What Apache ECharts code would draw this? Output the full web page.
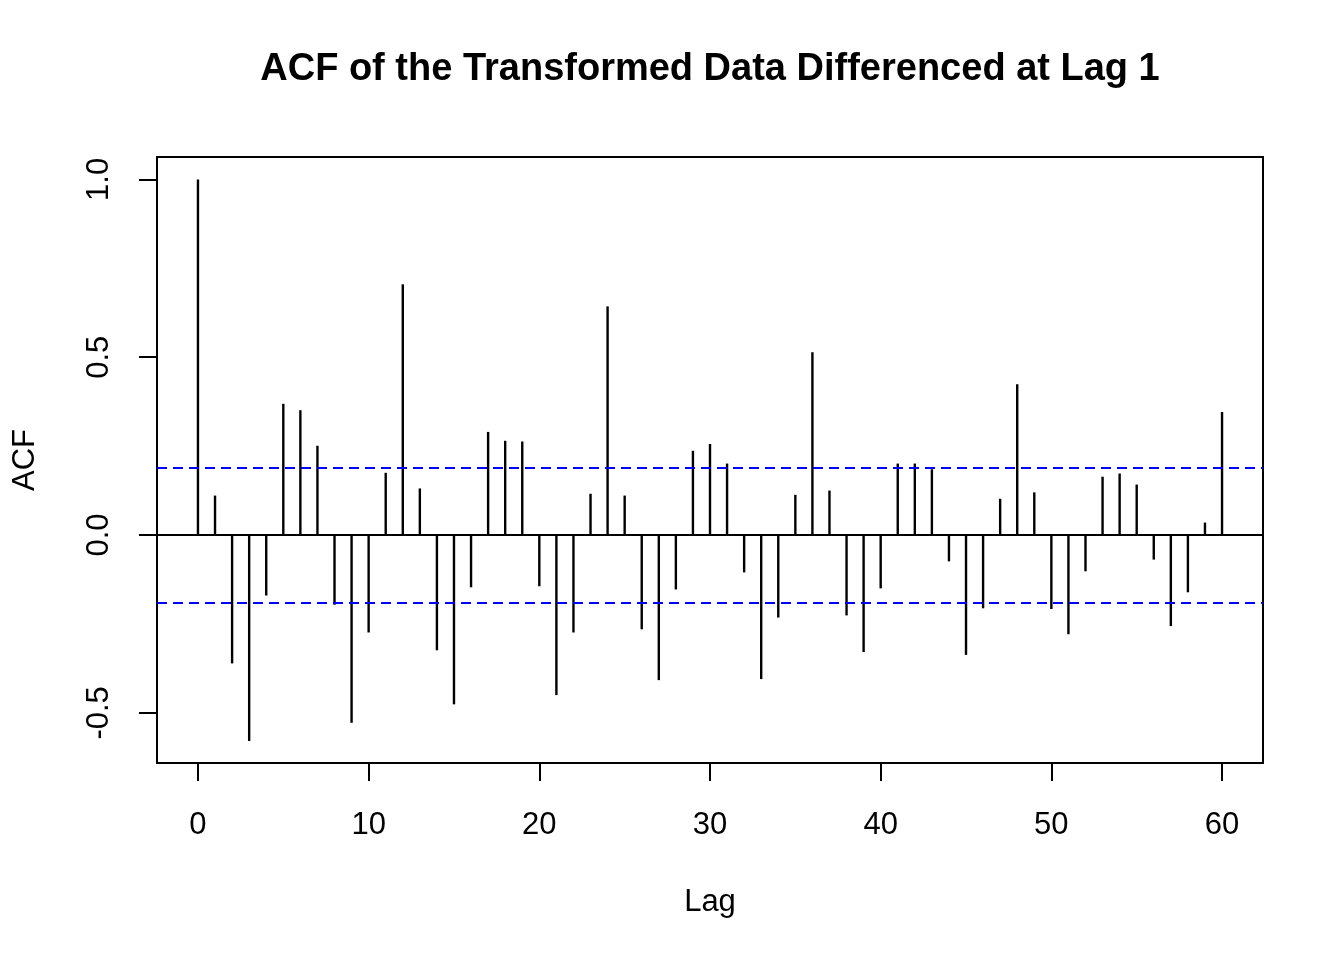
<!DOCTYPE html>
<html>
<head>
<meta charset="utf-8">
<script src="https://cdn.jsdelivr.net/npm/echarts@6/dist/echarts.min.js"></script>
<style>
  html, body { margin: 0; padding: 0; background: #fff; }
  #acf { width: 1344px; height: 960px; }
</style>
</head>
<body>
<div id="acf"></div>
<script>
// lags 0..60 and sample ACF
var lags = [];
for (var i = 0; i <= 60; i++) lags.push(i);
var acfValues = [
    1.000, 0.111, -0.361, -0.579, -0.170, 0.369, 0.351, 0.251, -0.196, -0.528,
    -0.274, 0.175, 0.705, 0.131, -0.324, -0.476, -0.147, 0.290, 0.265, 0.263,
    -0.144, -0.450, -0.274, 0.116, 0.643, 0.111, -0.265, -0.408, -0.153, 0.237,
    0.256, 0.201, -0.105, -0.405, -0.232, 0.113, 0.514, 0.125, -0.226, -0.329,
    -0.150, 0.201, 0.201, 0.185, -0.074, -0.337, -0.206, 0.102, 0.424, 0.120,
    -0.208, -0.279, -0.102, 0.164, 0.173, 0.142, -0.069, -0.256, -0.161, 0.035,
    0.346
];
var ciBound = 0.19;
var xTicks = [0, 10, 20, 30, 40, 50, 60];
var yTicks = [-0.5, 0, 0.5, 1.0];

var font = 'Liberation Sans, Arial, sans-serif';

var acfChart = echarts.init(document.getElementById('acf'));

var spikes = lags.map(function (lag, idx) {
    return [lag, acfValues[idx]];
});

option = {
    backgroundColor: '#fff',
    animation: false,
    title: {
        text: 'ACF of the Transformed Data Differenced at Lag 1',
        left: 705,
        textAlign: 'center',
        top: 46,
        textStyle: {
            color: '#000',
            fontFamily: font,
            fontWeight: 'bold',
            fontSize: 38
        }
    },
    grid: {
        left: 157,
        top: 157,
        width: 1106,
        height: 606,
        show: true,
        borderColor: '#000',
        borderWidth: 2,
        backgroundColor: 'transparent'
    },
    xAxis: {
        type: 'value',
        min: -2.4,
        max: 62.4,
        name: 'Lag',
        nameLocation: 'middle',
        nameGap: 124,
        nameTextStyle: {
            color: '#000',
            fontFamily: font,
            fontSize: 31
        },
        axisLine: { show: false, onZero: false },
        splitLine: { show: false },
        axisTick: {
            show: true,
            length: 18,
            customValues: xTicks,
            lineStyle: { color: '#000', width: 2 }
        },
        axisLabel: {
            customValues: xTicks,
            margin: 47,
            color: '#000',
            fontFamily: font,
            fontSize: 31
        }
    },
    yAxis: {
        type: 'value',
        min: -0.641,
        max: 1.063,
        name: 'ACF',
        nameLocation: 'middle',
        nameGap: 116,
        nameRotate: 90,
        nameTextStyle: {
            color: '#000',
            fontFamily: font,
            fontSize: 31
        },
        axisLine: { show: false, onZero: false },
        splitLine: { show: false },
        axisTick: {
            show: true,
            length: 18,
            customValues: yTicks,
            lineStyle: { color: '#000', width: 2 }
        },
        axisLabel: {
            customValues: yTicks,
            rotate: 90,
            margin: 42,
            color: '#000',
            fontFamily: font,
            fontSize: 31,
            formatter: function (v) { return v.toFixed(1); }
        }
    },
    series: [
        {
            name: 'ACF',
            type: 'bar',
            barWidth: 2.4,
            data: spikes,
            itemStyle: { color: '#000' },
            silent: true,
            markLine: {
                silent: true,
                symbol: 'none',
                label: { show: false },
                data: [
                    { yAxis: 0, lineStyle: { color: '#000', width: 2, type: 'solid' } },
                    { yAxis: ciBound, lineStyle: { color: '#0000ff', width: 2, type: [10, 6] } },
                    { yAxis: -ciBound, lineStyle: { color: '#0000ff', width: 2, type: [10, 6] } }
                ]
            }
        }
    ]
};

acfChart.setOption(option);
</script>
</body>
</html>
